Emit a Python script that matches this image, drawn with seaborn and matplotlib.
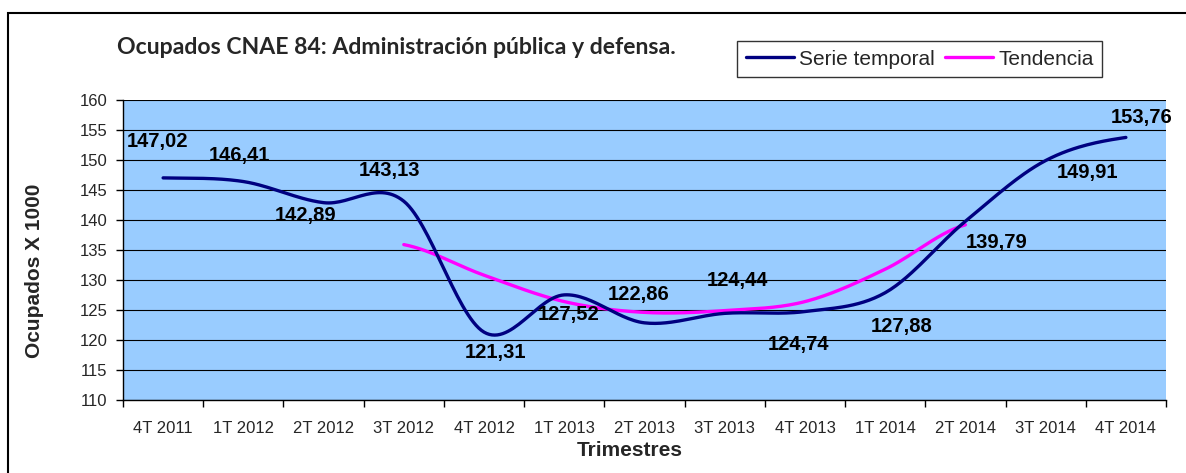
import numpy as np
import pandas as pd
import matplotlib
matplotlib.use("Agg")
import matplotlib.pyplot as plt
import seaborn as sns
from matplotlib.lines import Line2D
from matplotlib.patches import Rectangle

# ---------------- data ----------------
categories = ["4T 2011", "1T 2012", "2T 2012", "3T 2012", "4T 2012", "1T 2013", "2T 2013",
              "3T 2013", "4T 2013", "1T 2014", "2T 2014", "3T 2014", "4T 2014"]
serie_temporal = [147.02, 146.41, 142.89, 143.13, 121.31, 127.52, 122.86,
                  124.44, 124.74, 127.88, 139.79, 149.91, 153.76]
tendencia_categories = ["3T 2012", "4T 2012", "1T 2013", "2T 2013", "3T 2013",
                        "4T 2013", "1T 2014", "2T 2014"]
tendencia = [135.9, 130.8, 126.4, 124.6, 124.9, 126.4, 131.8, 139.2]
yticks = [110, 115, 120, 125, 130, 135, 140, 145, 150, 155, 160]

# label offsets in pixels (dx, dy) relative to each point
label_offsets = [(-6, 36), (-4, 26), (-18, -13), (-14, 31), (11, -20), (4, -20), (-6, 28),
                 (13, 33), (-6, -33), (16, -34), (31, -21), (42, -12), (16, 20)]

NAVY = "#000080"
MAGENTA = "#FF00FF"
BG = "#99CCFF"

sns.set_theme(style="white")
plt.rcParams["font.family"] = ["Liberation Sans", "DejaVu Sans"]


def smooth(xs, ys, n=30):
    """Catmull-Rom style smoothing (as Excel's smoothed lines)."""
    xs = np.asarray(xs, float)
    ys = np.asarray(ys, float)
    m = np.zeros_like(ys)
    for i in range(len(ys)):
        a = ys[max(i - 1, 0)]
        b = ys[min(i + 1, len(ys) - 1)]
        m[i] = (b - a) / 2.0
    ox, oy = [], []
    for i in range(len(ys) - 1):
        t = np.linspace(0, 1, n, endpoint=(i == len(ys) - 2))
        h00 = 2 * t**3 - 3 * t**2 + 1
        h10 = t**3 - 2 * t**2 + t
        h01 = -2 * t**3 + 3 * t**2
        h11 = t**3 - t**2
        oy.append(h00 * ys[i] + h10 * m[i] + h01 * ys[i + 1] + h11 * m[i + 1])
        ox.append(xs[i] + t * (xs[i + 1] - xs[i]))
    return np.concatenate(ox), np.concatenate(oy)


W, H = 1186, 473
fig = plt.figure(figsize=(W / 100, H / 100), dpi=100)
fig.patch.set_facecolor("white")

L, R, T, B = 123, 1166, 100, 400
ax = fig.add_axes([L / W, 1 - B / H, (R - L) / W, (B - T) / H])
ax.set_facecolor(BG)

xpos = np.arange(len(categories))
sx, sy = smooth(xpos, serie_temporal)
df_s = pd.DataFrame({"x": sx, "y": sy})
sns.lineplot(data=df_s, x="x", y="y", ax=ax, color=NAVY, lw=2.4, sort=False,
             estimator=None, zorder=4)

tx = [categories.index(c) for c in tendencia_categories]
stx, sty = smooth(tx, tendencia)
df_t = pd.DataFrame({"x": stx, "y": sty})
sns.lineplot(data=df_t, x="x", y="y", ax=ax, color=MAGENTA, lw=2.4, sort=False,
             estimator=None, zorder=3)

ax.set_xlim(-0.5, len(categories) - 0.5)
ax.set_ylim(110, 160)
ax.set_yticks(yticks)
ax.set_yticklabels([str(v) for v in yticks], fontsize=12)
ax.yaxis.grid(True, color="black", lw=0.8)
ax.xaxis.grid(False)
ax.set_axisbelow(True)

ax.set_xticks(np.arange(len(categories) + 1) - 0.5)
ax.set_xticklabels([])
ax.set_xticks(xpos, minor=True)
ax.set_xticklabels(categories, minor=True, fontsize=12)
ax.tick_params(axis="x", which="major", direction="out", length=5, width=1, color="black", bottom=True)
ax.tick_params(axis="x", which="minor", length=0, pad=15)
ax.tick_params(axis="y", direction="out", length=5, width=1, color="black", left=True, pad=6)

for s in ["top", "right"]:
    ax.spines[s].set_visible(False)
for s in ["left", "bottom"]:
    ax.spines[s].set_color("black")
    ax.spines[s].set_linewidth(1.0)

ax.set_xlabel("Trimestres", fontsize=15, fontweight="bold")
ax.set_ylabel("Ocupados X 1000", fontsize=15, fontweight="bold")
ax.xaxis.set_label_coords((630 - L) / (R - L), -(450 - B) / (B - T), transform=ax.transAxes)
ax.xaxis.label.set_va("center")
ax.yaxis.set_label_coords(-(L - 35) / (R - L), (B - 271) / (B - T), transform=ax.transAxes)
ax.yaxis.label.set_va("center")

for i, v in enumerate(serie_temporal):
    dx, dy = label_offsets[i]
    ax.annotate(f"{v:.2f}".replace(".", ","), (xpos[i], v), xytext=(dx, dy),
                textcoords="offset pixels", ha="center", va="center",
                fontsize=14.5, fontweight="bold", color="black", zorder=5)

fig.text(117 / W, 1 - 47 / H, "Ocupados CNAE 84: Administración pública y defensa.",
         fontsize=16.6, fontweight="bold", family=["Lato", "DejaVu Sans"], ha="left", va="center")

handles = [Line2D([], [], color=NAVY, lw=2.4), Line2D([], [], color=MAGENTA, lw=2.4)]
leg = fig.legend(handles, ["Serie temporal", "Tendencia"], loc="upper left",
                 bbox_to_anchor=(737 / W, 1 - 41 / H), ncol=2, frameon=True, fancybox=False,
                 fontsize=15, handlelength=2.3, handletextpad=0.25, columnspacing=0.5,
                 borderpad=0.42, borderaxespad=0)
leg.get_frame().set_edgecolor("black")
leg.get_frame().set_linewidth(1.0)

fig.patches.append(Rectangle((8 / W, -0.1), 1.2, 1 - 13 / H + 0.1, transform=fig.transFigure,
                             fill=False, edgecolor="black", lw=1.5))

fig.savefig("out.png", dpi=100)
